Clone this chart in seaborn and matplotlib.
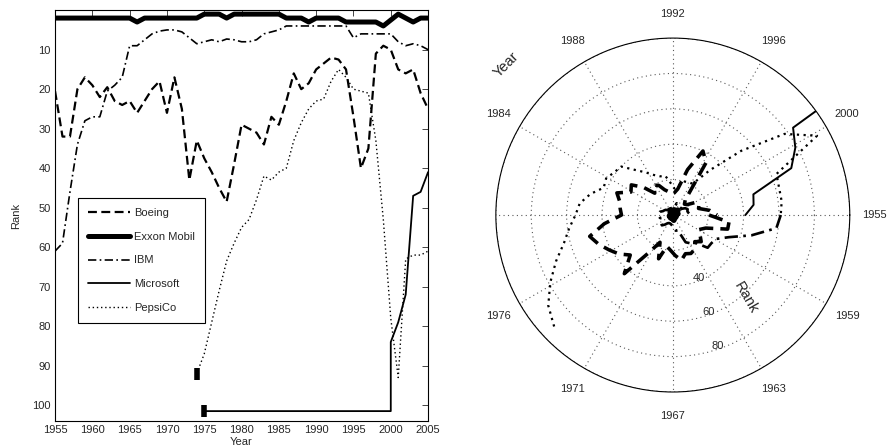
import numpy as np
import pandas as pd
import matplotlib
matplotlib.use("Agg")
import matplotlib.pyplot as plt
import seaborn as sns

# ranks
years = list(range(1955, 2006))
boeing = [20.5, 32, 32, 20, 17, 19, 22, 19.5, 23, 24,
          23, 26, 23, 20, 18, 26, 17, 25, 43, 33,
          37.5, 41, 45, 48.5, 39, 29, 30, 31, 34, 27,
          29, 23, 16, 20, 18.5, 15, 13.5, 12, 12.5, 15,
          27, 40, 35, 11, 9, 10, 15, 16, 15, 21, 25]
exxon = [2, 2, 2, 2, 2, 2, 2, 2, 2, 2,
         2, 3, 2, 2, 2, 2, 2, 2, 2, 2,
         1, 1, 1, 2, 1, 1, 1, 1, 1, 1,
         1, 2, 2, 2, 3, 2, 2, 2, 2, 3,
         3, 3, 3, 3, 4, 2.5, 1, 2, 3, 2, 2]
ibm = [61, 59, 46, 34, 28, 27, 27, 20.5, 19, 17,
       9, 9, 7.5, 6, 5.3, 5, 5, 5.5, 7, 8.5,
       8, 7.5, 8, 7.3, 7.5, 8, 8, 7.5, 6, 5.5,
       5, 4, 4, 4, 4, 4, 4, 4, 4, 4,
       7, 6, 6, 6, 6, 6, 8, 9, 8.5, 9, 10]
# 101.5 = not in the list yet; 2000 appears twice for the jump
msft_years = list(range(1975, 2001)) + [2000, 2001, 2002, 2003, 2004, 2005]
msft = [101.5] * 26 + [84, 79, 72, 47, 46, 41]
pepsi_years = list(range(1974, 2006))
pepsi = [92, 87, 79, 71, 63.5, 59, 55, 53, 48, 42,
         43, 41, 40, 33, 28.5, 25, 23, 22.5, 18, 15,
         17, 20, 20.5, 21, 33, 53, 78, 93, 63, 62,
         62, 61]

theta_labels = ["1955", "1959", "1963", "1967", "1971", "1976", "",
                "1984", "1988", "1992", "1996", "2000"]

sns.set_style("white")
plt.rcParams["font.family"] = ["Liberation Sans", "DejaVu Sans"]
plt.rcParams["font.size"] = 8

series = [
    ("Boeing", years, boeing, dict(linestyle=(0, (4, 2)), lw=1.6)),
    ("Exxon Mobil", years, exxon, dict(linestyle="-", lw=3.6)),
    ("IBM", years, ibm, dict(linestyle=(0, (5, 2, 1, 2)), lw=1.2)),
    ("Microsoft", msft_years, msft, dict(linestyle="-", lw=1.3)),
    ("PepsiCo", pepsi_years, pepsi, dict(linestyle=(0, (1, 2)), lw=1.0)),
]

fig = plt.figure(figsize=(8.95, 4.48), dpi=100)
ax = fig.add_axes([0.0615, 0.0603, 0.4168, 0.917])
pax = fig.add_axes([0.554, 0.125, 0.3955, 0.790], projection="polar")

# left: rank over time
for name, xs, ys, st in series:
    df = pd.DataFrame({"Year": xs, "Rank": ys})
    sns.lineplot(data=df, x="Year", y="Rank", ax=ax, color="k", label=name,
                 estimator=None, sort=False, legend=False, **st)

# start markers for the late entries
ax.plot(pepsi_years[0], pepsi[0], marker="|", ms=8, mew=4, color="k")
ax.plot(msft_years[0], msft[0], marker="|", ms=8, mew=4, color="k")

ax.set_xlim(1955, 2005)
ax.set_ylim(104, 0)
ax.set_xticks(range(1955, 2006, 5))
ax.set_yticks(range(10, 101, 10))
ax.tick_params(direction="in", top=True, right=True, length=4, width=0.6,
               labelsize=8, pad=3)
for s in ax.spines.values():
    s.set_color("k")
    s.set_linewidth(0.8)
ax.set_xlabel("Year", fontsize=8, labelpad=1)
ax.set_ylabel("Rank", fontsize=8, labelpad=8)
leg = ax.legend(loc="lower left", bbox_to_anchor=(0.062, 0.238), fontsize=8,
                handlelength=3.8, labelspacing=1.25, borderpad=0.9,
                handletextpad=0.3, fancybox=False, framealpha=1,
                borderaxespad=0)
leg.get_frame().set_edgecolor("k")
leg.get_frame().set_linewidth(0.8)

# right: same data wrapped round a circle
for name, xs, ys, st in series:
    th = (np.array(xs) - 1955) / 50 * 2 * np.pi
    pst = dict(st)
    pst["lw"] = st["lw"] * 1.6 if name != "Exxon Mobil" else 4
    if name == "Microsoft":
        pst["lw"] = 1.4
    sns.lineplot(x=th, y=np.array(ys), ax=pax, color="k", estimator=None,
                 sort=False, legend=False, **pst)

pax.set_theta_zero_location("E")
pax.set_theta_direction(-1)
pax.set_ylim(0, 100)
pax.set_thetagrids(np.arange(0, 360, 30), labels=theta_labels)
pax.set_rgrids([20, 40, 60, 80, 100], labels=["", "40", "60", "80", ""], angle=74)
pax.grid(True, color="0.35", linestyle=(0, (1, 3)), lw=0.8)
pax.spines["polar"].set_color("k")
pax.spines["polar"].set_linewidth(0.8)
pax.tick_params(axis="x", pad=7, labelsize=8)
pax.tick_params(axis="y", labelsize=8)
pax.set_xlabel("")
pax.set_ylabel("")
pax.text(0.03, 0.925, "Year", rotation=45, transform=pax.transAxes,
         ha="center", va="center", fontsize=10.5)
pax.text(0.705, 0.265, "Rank", rotation=-60, transform=pax.transAxes,
         ha="center", va="center", fontsize=10.5)

fig.savefig("out.png", dpi=100)
